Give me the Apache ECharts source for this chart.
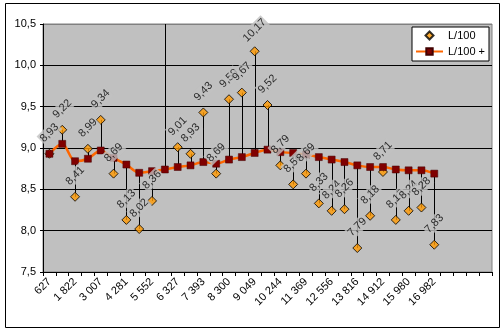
<!DOCTYPE html>
<html>
<head>
<meta charset="utf-8">
<script src="https://cdn.jsdelivr.net/npm/echarts@6/dist/echarts.min.js"></script>
<style>html,body{margin:0;padding:0;background:#fff;}#c{width:503px;height:330px;}</style>
</head>
<body>
<div id="c"></div>
<script>
const categories = ['627','','1 822','','3 007','','4 281','','5 552','','6 327','','7 393','','8 300','','9 049','','10 244','','11 369','','12 556','','13 816','','14 912','','15 980','','16 982','','','',''];
const lPer100 = [8.93, 9.22, 8.41, 8.99, 9.34, 8.69, 8.13, 8.02, 8.36, 11.0, 9.01, 8.93, 9.43, 8.69, 9.59, 9.67, 10.17, 9.52, 8.79, 8.56, 8.69, 8.33, 8.24, 8.26, 7.79, 8.18, 8.71, 8.13, 8.24, 8.28, 7.83];
const lPer100Plus = [8.93, 9.05, 8.84, 8.87, 8.97, 8.88, 8.80, 8.70, 8.72, 8.74, 8.77, 8.79, 8.83, 8.81, 8.86, 8.89, 8.94, 8.98, 8.95, 8.94, 8.92, 8.89, 8.86, 8.83, 8.79, 8.77, 8.77, 8.74, 8.73, 8.73, 8.69];
const yTicks = [7.5, 8.0, 8.5, 9.0, 9.5, 10.0, 10.5];

const fmt = v => v.toFixed(2).replace('.', ',');
const FONT = 'Liberation Sans, Arial, sans-serif';

const chart = echarts.init(document.getElementById('c'), null, {renderer: 'canvas'});
chart.setOption({
  animation: false,
  backgroundColor: '#fff',
  graphic: [{
    type: 'rect', z: 100,
    shape: {x: 5.5, y: 3.5, width: 494, height: 324},
    style: {fill: 'none', stroke: '#000', lineWidth: 1}
  }],
  grid: {
    left: 43, right: 11, top: 24, bottom: 58,
    show: true, backgroundColor: '#C0C0C0', borderColor: '#808080', borderWidth: 1
  },
  legend: {
    orient: 'vertical', left: 412, top: 27,
    data: [{name: 'L/100', icon: 'path://M0,-1L1,0L0,1L-1,0Z'}, {name: 'L/100 +'}],
    itemWidth: 27, itemHeight: 8, itemGap: 5,
    symbolKeepAspect: true,
    padding: [3, 4, 4, 3],
    backgroundColor: '#fff', borderColor: '#000', borderWidth: 1,
    textStyle: {fontFamily: FONT, fontSize: 11, color: '#000'},
    selectedMode: false
  },
  xAxis: {
    type: 'category', data: categories, boundaryGap: true,
    axisLine: {lineStyle: {color: '#000', width: 1}},
    axisTick: {show: true, interval: 0, length: 4, lineStyle: {color: '#000'}},
    axisLabel: {interval: 0, rotate: 45, margin: 8, fontFamily: FONT, fontSize: 11, color: '#000'},
    splitLine: {show: false}
  },
  yAxis: {
    type: 'value', min: yTicks[0], max: yTicks[yTicks.length - 1], interval: 0.5,
    axisLine: {show: true, lineStyle: {color: '#000', width: 1}},
    axisTick: {show: true, length: 3, lineStyle: {color: '#000'}},
    axisLabel: {margin: 7, fontFamily: FONT, fontSize: 11, color: '#000',
      formatter: v => v.toFixed(1).replace('.', ',')},
    splitLine: {show: true, lineStyle: {color: ['#000','#000','#000','#000','#000','#000','#808080'], width: 1}}
  },
  series: [
    {
      name: 'hilo', type: 'custom', z: 1, silent: true,
      data: lPer100.map((v, i) => [i, v, lPer100Plus[i]]),
      encode: {x: 0, y: [1, 2]},
      renderItem: function (params, api) {
        const i = api.value(0), a = api.value(1), b = api.value(2);
        const p1 = api.coord([i, a]), p2 = api.coord([i, b]);
        const cs = params.coordSys;
        const clamp = y => Math.max(cs.y, Math.min(cs.y + cs.height, y));
        const x = Math.round(p1[0]) + 0.5;
        return {type: 'line', shape: {x1: x, y1: clamp(p1[1]), x2: x, y2: clamp(p2[1])},
          style: {stroke: '#000', lineWidth: 1}};
      }
    },
    {
      name: 'L/100', type: 'scatter', z: 2, silent: true,
      data: lPer100,
      symbol: 'diamond', symbolSize: 9,
      itemStyle: {color: '#FF9900', borderColor: '#000', borderWidth: 1}
    },
    {
      name: 'L/100 +', type: 'line', z: 3, silent: true,
      data: lPer100Plus, smooth: 0.3,
      symbol: 'rect', symbolSize: 7, showAllSymbol: true,
      lineStyle: {color: '#FF6600', width: 2.5},
      itemStyle: {color: '#800000', borderColor: '#400000', borderWidth: 0.5}
    },
    {
      name: 'labels', type: 'scatter', z: 4, silent: true,
      data: lPer100,
      symbol: 'circle', symbolSize: 0,
      itemStyle: {color: 'rgba(0,0,0,0)'},
      label: {
        show: true, position: 'top', distance: 21, rotate: 45,
        align: 'center', verticalAlign: 'middle',
        fontFamily: FONT, fontSize: 11, color: '#000',
        backgroundColor: '#C0C0C0', padding: [1, 1],
        formatter: p => fmt(p.value)
      }
    }
  ]
});
</script>
</body>
</html>
